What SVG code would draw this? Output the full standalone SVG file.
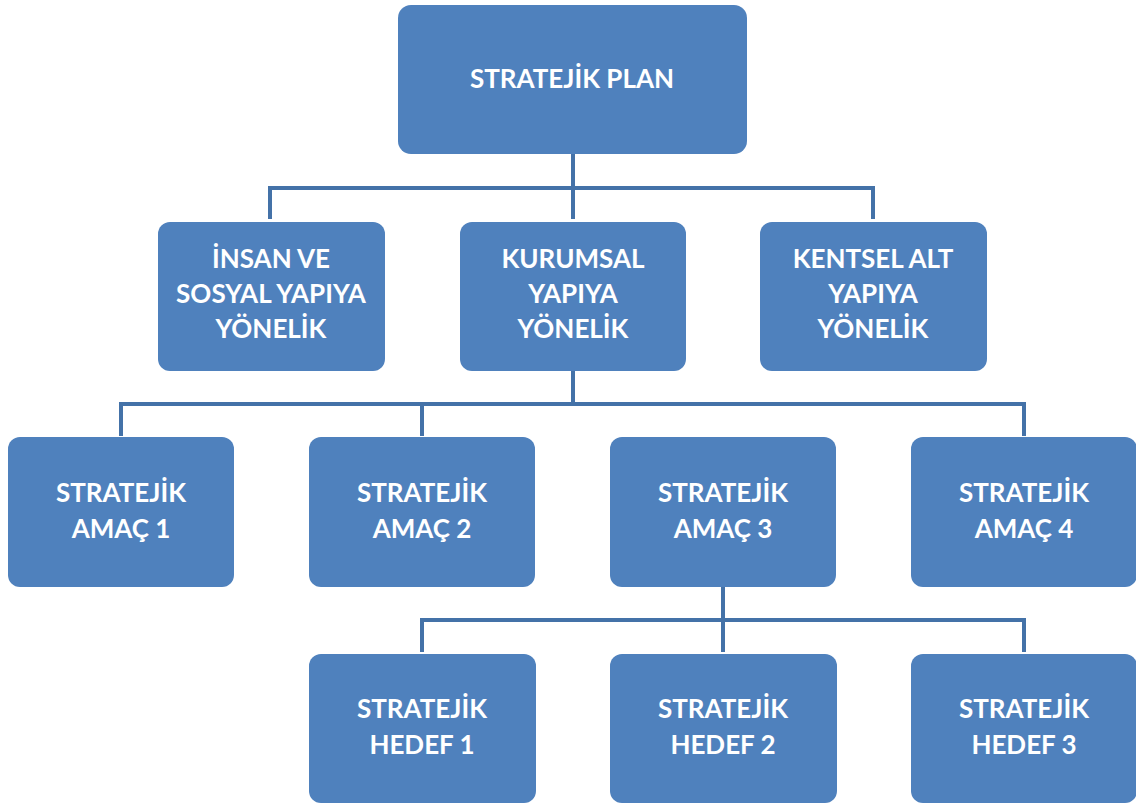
<svg xmlns="http://www.w3.org/2000/svg" width="1136" height="805" viewBox="0 0 1136 805">
<style>
.box{fill:#4F81BD;}
.t{fill:#fff;font-family:Lato,"Open Sans",sans-serif;font-weight:bold;font-size:26px;text-anchor:middle;}
.c{stroke:#4472A8;stroke-width:4;fill:none;}
</style>
<rect width="1136" height="805" fill="#fff"/>
<g id="connectors">
<path class="c" d="M573 154V219M270 219V188H873V219"/>
<path class="c" d="M573 371V404M121 436V404H1024V436M422 404V436"/>
<path class="c" d="M723 587V652M422 652V620H1024V652"/>
</g>
<g id="n0"><rect class="box" x="398" y="5" width="349" height="149" rx="13"/><text class="t" x="572" y="88">STRATEJİK PLAN</text></g>
<g id="n1"><rect class="box" x="158" y="222" width="227" height="149" rx="12"/><text class="t" x="271" y="268">İNSAN VE</text><text class="t" x="271" y="303">SOSYAL YAPIYA</text><text class="t" x="271" y="338">YÖNELİK</text></g>
<g id="n2"><rect class="box" x="460" y="222" width="226" height="149" rx="12"/><text class="t" x="573" y="268">KURUMSAL</text><text class="t" x="573" y="303">YAPIYA</text><text class="t" x="573" y="338">YÖNELİK</text></g>
<g id="n3"><rect class="box" x="760" y="222" width="227" height="149" rx="12"/><text class="t" x="873" y="268">KENTSEL ALT</text><text class="t" x="873" y="303">YAPIYA</text><text class="t" x="873" y="338">YÖNELİK</text></g>
<g id="a1"><rect class="box" x="8" y="437" width="226" height="150" rx="12"/><text class="t" x="121" y="502">STRATEJİK</text><text class="t" x="121" y="538">AMAÇ 1</text></g>
<g id="a2"><rect class="box" x="309" y="437" width="226" height="150" rx="12"/><text class="t" x="422" y="502">STRATEJİK</text><text class="t" x="422" y="538">AMAÇ 2</text></g>
<g id="a3"><rect class="box" x="610" y="437" width="226" height="150" rx="12"/><text class="t" x="723" y="502">STRATEJİK</text><text class="t" x="723" y="538">AMAÇ 3</text></g>
<g id="a4"><rect class="box" x="911" y="437" width="226" height="150" rx="12"/><text class="t" x="1024" y="502">STRATEJİK</text><text class="t" x="1024" y="538">AMAÇ 4</text></g>
<g id="h1"><rect class="box" x="309" y="654" width="227" height="149" rx="12"/><text class="t" x="422" y="718">STRATEJİK</text><text class="t" x="422" y="754">HEDEF 1</text></g>
<g id="h2"><rect class="box" x="610" y="654" width="227" height="149" rx="12"/><text class="t" x="723" y="718">STRATEJİK</text><text class="t" x="723" y="754">HEDEF 2</text></g>
<g id="h3"><rect class="box" x="911" y="654" width="226" height="149" rx="12"/><text class="t" x="1024" y="718">STRATEJİK</text><text class="t" x="1024" y="754">HEDEF 3</text></g>
</svg>
